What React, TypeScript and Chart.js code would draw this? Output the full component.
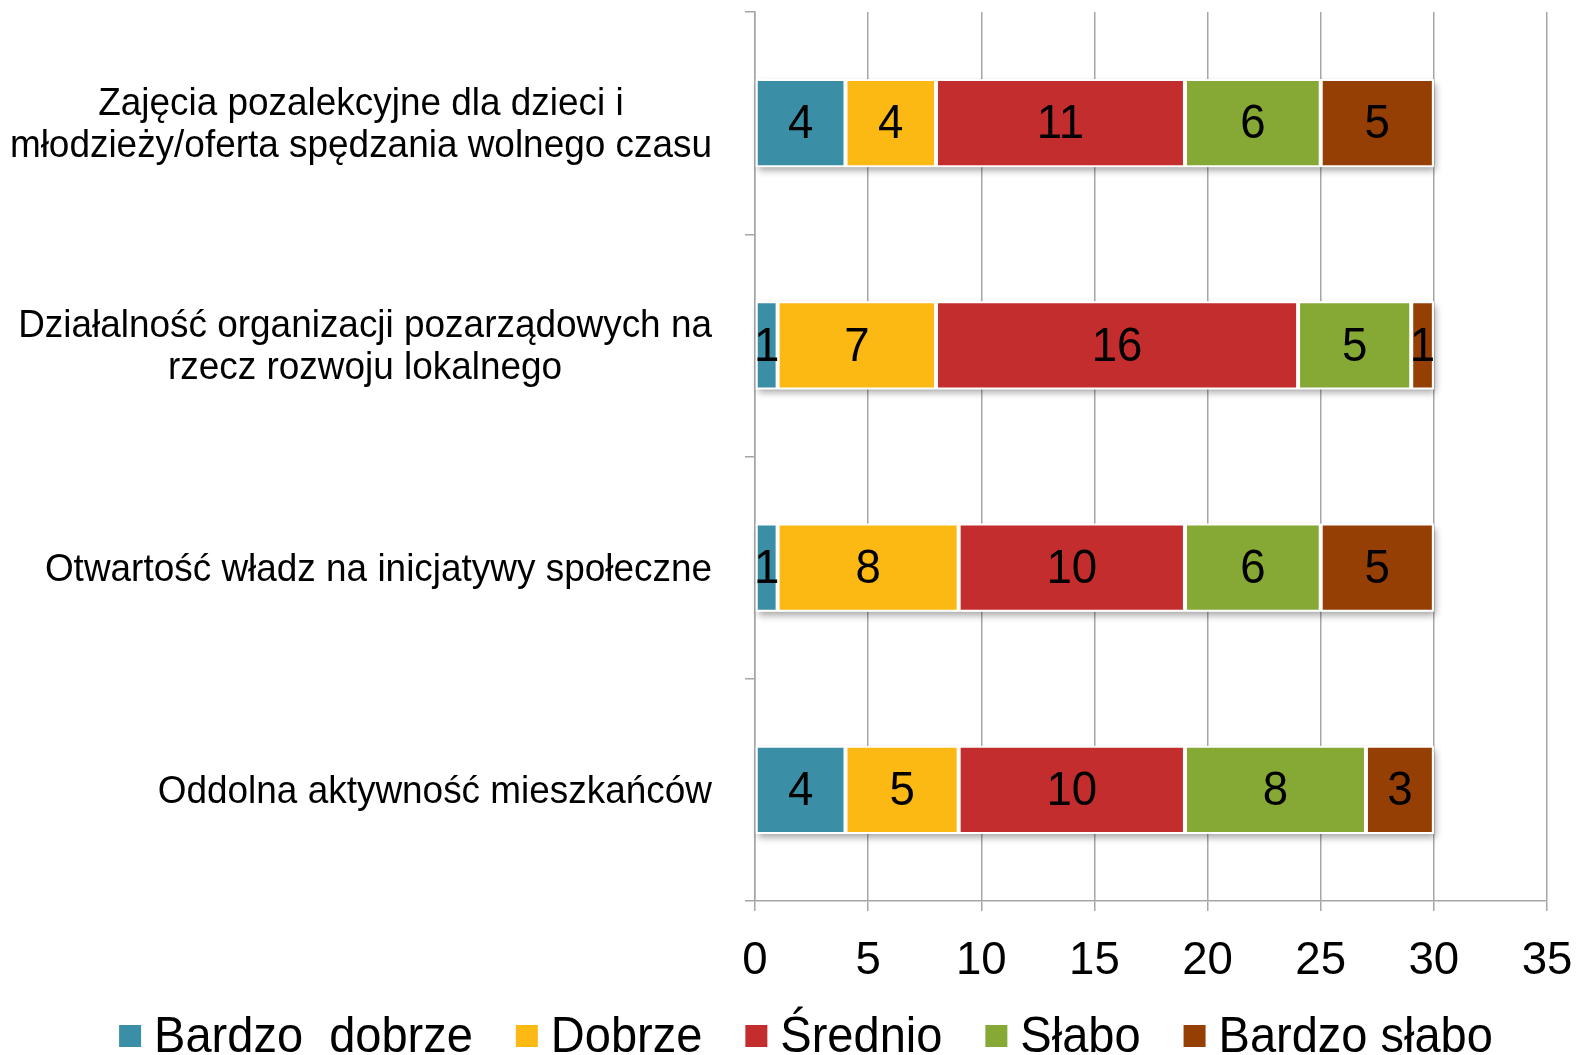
import React, { useEffect, useRef } from "react";
import { Chart, registerables } from "chart.js";

Chart.register(...registerables);

const categories: string[][] = [
  ["Zajęcia pozalekcyjne dla dzieci i", "młodzieży/oferta spędzania wolnego czasu"],
  ["Działalność organizacji pozarządowych na", "rzecz rozwoju lokalnego"],
  ["Otwartość władz na inicjatywy społeczne"],
  ["Oddolna aktywność mieszkańców"],
];

const seriesNames = ["Bardzo  dobrze", "Dobrze", "Średnio", "Słabo", "Bardzo słabo"];
const bardzoDobrze = [4, 1, 1, 4];
const dobrze = [4, 7, 8, 5];
const srednio = [11, 16, 10, 10];
const slabo = [6, 5, 6, 8];
const bardzoSlabo = [5, 1, 5, 3];
const seriesColors = ["#3A8FA6", "#FDB913", "#C32D2E", "#86A834", "#963F05"];
const xTicks = [0, 5, 10, 15, 20, 25, 30, 35];

const FONT = "'Liberation Sans', Arial, sans-serif";

function scaledText(ctx: CanvasRenderingContext2D, text: string, x: number, y: number, sx: number) {
  ctx.save();
  ctx.translate(x, y);
  ctx.scale(sx, 1);
  ctx.fillText(text, 0, 0);
  ctx.restore();
}

export default function App() {
  const ref = useRef<HTMLCanvasElement | null>(null);

  useEffect(() => {
    document.body.style.margin = "0";
    const canvas = ref.current!;
    const values = [bardzoDobrze, dobrze, srednio, slabo, bardzoSlabo];

    const shadowPlugin = {
      id: "barShadow",
      beforeDatasetsDraw(chart: any) {
        const ctx = chart.ctx;
        const metas = chart.getSortedVisibleDatasetMetas();
        if (!metas.length) return;
        const first = metas[0];
        const last = metas[metas.length - 1];
        ctx.save();
        first.data.forEach((el: any, i: number) => {
          const le = last.data[i];
          const x0 = Math.min(el.base, el.x);
          const x1 = le.x;
          const h = el.height;
          ctx.shadowColor = "rgba(0,0,0,0.35)";
          ctx.shadowBlur = 7;
          ctx.shadowOffsetX = 2;
          ctx.shadowOffsetY = 4;
          ctx.fillStyle = "#ffffff";
          ctx.fillRect(x0, el.y - h / 2, x1 - x0, h);
        });
        ctx.restore();
      },
    };

    const labelsPlugin = {
      id: "customLabels",
      afterDatasetsDraw(chart: any) {
        const ctx = chart.ctx;
        ctx.save();
        ctx.fillStyle = "#000";
        ctx.textAlign = "center";
        ctx.textBaseline = "middle";
        // data labels
        ctx.font = `48px ${FONT}`;
        chart.getSortedVisibleDatasetMetas().forEach((meta: any) => {
          const ds = chart.data.datasets[meta.index];
          meta.data.forEach((el: any, i: number) => {
            const v = ds.data[i];
            const cx = (el.x + el.base) / 2;
            scaledText(ctx, String(v), cx, el.y + 2, 0.95);
          });
        });
        // x tick labels
        const xScale = chart.scales.x;
        ctx.font = `47px ${FONT}`;
        xScale.ticks.forEach((t: any) => {
          scaledText(ctx, String(t.value), xScale.getPixelForValue(t.value), 961, 0.97);
        });
        // category labels
        const yScale = chart.scales.y;
        const right = chart.chartArea.left - 43;
        const sxc = 0.935;
        ctx.font = `39.5px ${FONT}`;
        const lh = 42;
        categories.forEach((lines, i) => {
          const cy = yScale.getPixelForValue(i);
          const maxW = Math.max(...lines.map((l) => ctx.measureText(l).width * sxc));
          const cx = right - maxW / 2;
          const startY = cy - ((lines.length - 1) * lh) / 2;
          lines.forEach((l, j) => {
            scaledText(ctx, l, cx, startY + j * lh + 2, sxc);
          });
        });
        // legend
        const sxl = 0.94;
        ctx.font = `50px ${FONT}`;
        const box = 22;
        const gapBox = 13;
        const gapItem = 43;
        const tw = seriesNames.map((n) => ctx.measureText(n).width * sxl);
        const widths = tw.map((w) => box + gapBox + w);
        const total = widths.reduce((a, b) => a + b, 0) + gapItem * (widths.length - 1);
        let x = 806 - total / 2;
        const ly = 1036;
        ctx.textAlign = "left";
        seriesNames.forEach((n, k) => {
          ctx.fillStyle = seriesColors[k];
          ctx.fillRect(x, ly - box / 2, box, box);
          ctx.fillStyle = "#000";
          scaledText(ctx, n, x + box + gapBox, ly + 2, sxl);
          x += widths[k] + gapItem;
        });
        ctx.restore();
      },
    };

    const chart = new Chart(canvas, {
      type: "bar",
      data: {
        labels: categories.map((c) => c.join(" ")),
        datasets: seriesNames.map((name, k) => ({
          label: name,
          data: values[k],
          backgroundColor: seriesColors[k],
          borderColor: "#ffffff",
          borderWidth: 2,
          borderSkipped: false,
          barPercentage: 0.396,
          categoryPercentage: 1,
        })),
      },
      options: {
        indexAxis: "y",
        responsive: false,
        animation: false,
        layout: { padding: { top: 12, right: 32, bottom: 74, left: 0 } },
        plugins: {
          legend: { display: false },
          tooltip: { enabled: false },
        },
        scales: {
          x: {
            stacked: true,
            min: 0,
            max: 35,
            afterBuildTicks: (scale: any) => {
              scale.ticks = xTicks.map((v) => ({ value: v }));
            },
            afterFit: (scale: any) => {
              scale.height = 80;
            },
            grid: {
              color: "#A6A6A6",
              lineWidth: 1.5,
              drawTicks: true,
              tickLength: 10,
            },
            border: { display: true, color: "#A6A6A6", width: 1.5 },
            ticks: { display: false },
          },
          y: {
            stacked: true,
            afterFit: (scale: any) => {
              scale.width = 755;
            },
            grid: {
              drawOnChartArea: false,
              drawTicks: true,
              tickLength: 10,
              color: "#A6A6A6",
              lineWidth: 1.5,
            },
            border: { display: true, color: "#A6A6A6", width: 1.5 },
            ticks: { display: false },
          },
        },
      } as any,
      plugins: [shadowPlugin, labelsPlugin],
    });

    return () => chart.destroy();
  }, []);

  return <canvas ref={ref} width={1579} height={1055} style={{ display: "block" }} />;
}
